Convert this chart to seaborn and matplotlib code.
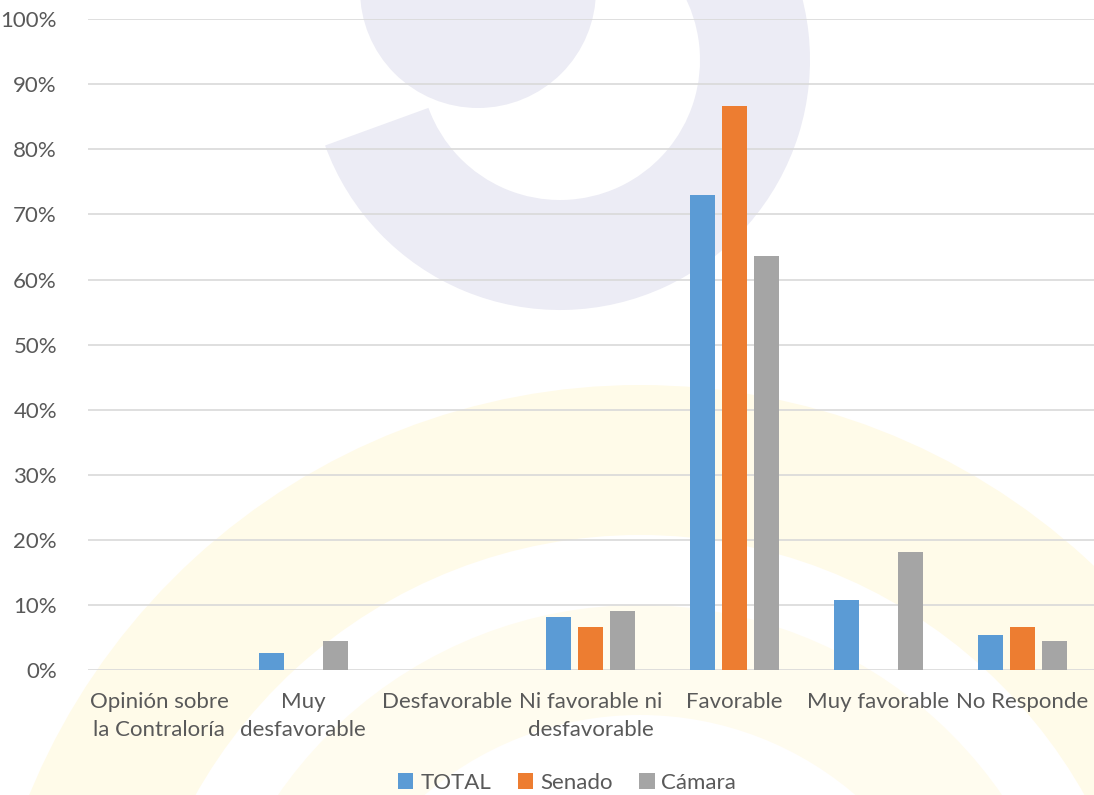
import pandas as pd
import numpy as np
import matplotlib
matplotlib.use('Agg')
import matplotlib.pyplot as plt
import seaborn as sns
from matplotlib.ticker import PercentFormatter
from matplotlib.patches import Wedge

categorias = ['Opinión sobre\nla Contraloría', 'Muy\ndesfavorable', 'Desfavorable',
              'Ni favorable ni\ndesfavorable', 'Favorable', 'Muy favorable', 'No Responde']
series = ['TOTAL', 'Senado', 'Cámara']
total = [0, 2.7, 0, 8.1, 73.0, 10.8, 5.4]
senado = [0, 0, 0, 6.7, 86.7, 0, 6.7]
camara = [0, 4.5, 0, 9.1, 63.6, 18.2, 4.5]
colores = ['#5B9BD5', '#ED7D31', '#A5A5A5']

df = pd.DataFrame({
    'categoria': categorias * 3,
    'serie': [s for s in series for _ in categorias],
    'valor': total + senado + camara,
})

sns.set_style('white')
plt.rcParams['font.family'] = ['Lato', 'DejaVu Sans']

W, H = 1094, 795
fig = plt.figure(figsize=(W / 100, H / 100), dpi=100)

# faint logo watermark in the background (pixel coords, y up)
marca = [
    ((640, -250), 660, 150, 5, 175, '#FFFBE9'),
    ((640, -250), 440, 110, 5, 175, '#FFFCEF'),
    ((560, 735), 250, 110, 200, 390, '#ECECF5'),
    ((478, 805), 118, 118, 180, 360, '#ECECF5'),
]
for (cx, cy), r, w, t1, t2, col in marca:
    fig.patches.append(Wedge((cx / 100, cy / 100), r / 100, t1, t2, width=w / 100,
                             transform=fig.dpi_scale_trans, facecolor=col,
                             edgecolor='none', zorder=-5))

ax = fig.add_axes([0.080, 0.157, 0.920, 0.819])
ax.set_zorder(2)
ax.patch.set_alpha(0)

sns.barplot(data=df, x='categoria', y='valor', hue='serie', order=categorias,
            hue_order=series, palette=colores, width=0.668, gap=0.22,
            linewidth=0, saturation=1, ax=ax)

ax.set_ylim(0, 100)
ax.set_xlim(-0.5, 6.5)
ax.set_yticks(np.arange(0, 101, 10))
ax.yaxis.set_major_formatter(PercentFormatter(decimals=0))
ax.grid(axis='y', color='#D9D9D9', linewidth=1.2)
ax.set_axisbelow(True)
for s in ax.spines.values():
    s.set_visible(False)
ax.set_xlabel('')
ax.set_ylabel('')
ax.tick_params(axis='both', length=0, labelsize=16, colors='#595959')
ax.tick_params(axis='x', pad=16)
ax.tick_params(axis='y', pad=22)
for t in ax.get_xticklabels():
    t.set_linespacing(1.45)

ax.get_legend().remove()
handles, labels = ax.get_legend_handles_labels()
leg = fig.legend(handles, labels, loc='center', bbox_to_anchor=(567 / W, 12 / H), ncol=3,
                 frameon=False, fontsize=16, handlelength=0.7, handleheight=0.7,
                 handletextpad=0.3, columnspacing=1.2, labelcolor='#595959')
leg.set_zorder(3)

fig.savefig('out.png', dpi=100, facecolor='white')
